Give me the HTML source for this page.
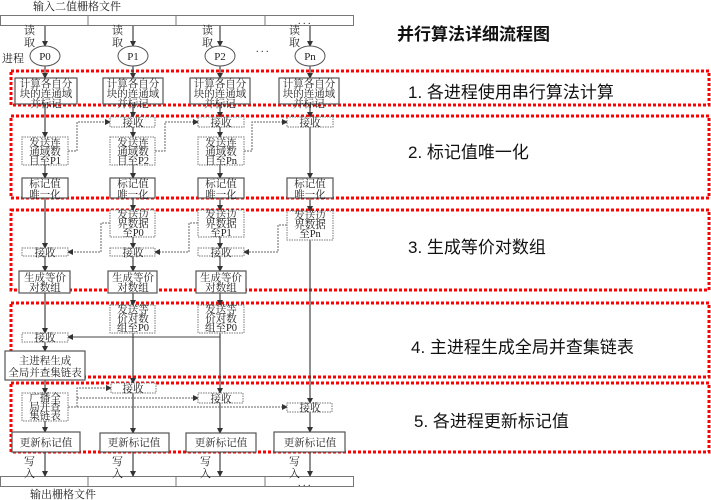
<!DOCTYPE html>
<html><head><meta charset="utf-8"><style>
html,body{margin:0;padding:0;background:#fff;}
svg{display:block;}
text{font-family:"Liberation Serif","Noto Serif CJK SC","Noto Sans CJK SC",serif;fill:#222;}
.t{font-size:10.5px;text-anchor:middle;}
.r{font-family:"Liberation Sans","Noto Sans CJK SC",sans-serif;font-size:17px;fill:#111;}
</style></head><body>
<svg width="711" height="500" viewBox="0 0 711 500" xmlns="http://www.w3.org/2000/svg">
<defs>
<marker id="a" markerWidth="6" markerHeight="6" refX="5" refY="3" orient="auto" markerUnits="userSpaceOnUse"><path d="M0,0 L6,3 L0,6 z" fill="#333"/></marker>
</defs>
<g fill="none" stroke="#f00" stroke-width="3" stroke-dasharray="3,2">
<rect x="11" y="71" width="698" height="34"/>
<rect x="11" y="116" width="698" height="82"/>
<rect x="11" y="210" width="698" height="80"/>
<rect x="11" y="303" width="698" height="74"/>
<rect x="11" y="383" width="698" height="69"/>
</g>
<text x="33" y="10" style="font-size:11px">输入二值栅格文件</text>
<g fill="#fff" stroke="#777" stroke-width="1">
<rect x="0.5" y="15.5" width="353" height="10"/>
<rect x="0.5" y="476.5" width="353" height="10"/>
</g>
<g stroke="#777"><line x1="88" y1="15" x2="88" y2="26"/><line x1="176" y1="15" x2="176" y2="26"/><line x1="265" y1="15" x2="265" y2="26"/>
<line x1="88" y1="476" x2="88" y2="487"/><line x1="176" y1="476" x2="176" y2="487"/><line x1="265" y1="476" x2="265" y2="487"/></g>
<text x="298" y="24" style="font-size:10px">. . .</text>
<text x="298" y="486" style="font-size:10px">. . .</text>
<text x="30" y="498" style="font-size:11px">输出栅格文件</text>
<text x="256" y="52" style="font-size:10px">. . .</text>
<text x="2" y="62" style="font-size:11px">进程</text>
<g style="font-size:11px">
<text x="24" y="34">读</text><text x="24" y="46">取</text>
<text x="112" y="34">读</text><text x="112" y="46">取</text>
<text x="202" y="34">读</text><text x="202" y="46">取</text>
<text x="289" y="34">读</text><text x="289" y="46">取</text>
<text x="24" y="465" fill="#666">写</text><text x="24" y="477">入</text>
<text x="112" y="465" fill="#666">写</text><text x="112" y="477">入</text>
<text x="200" y="465" fill="#666">写</text><text x="200" y="477">入</text>
<text x="289" y="465" fill="#666">写</text><text x="289" y="477">入</text>
</g>
<g stroke="#444" stroke-width="1.2" fill="none" marker-end="url(#a)">
<line x1="45" y1="26" x2="45" y2="46"/><line x1="133" y1="26" x2="133" y2="46"/><line x1="220" y1="26" x2="220" y2="46"/><line x1="310" y1="26" x2="310" y2="46"/>
<line x1="45" y1="66" x2="45" y2="78"/><line x1="133" y1="66" x2="133" y2="78"/><line x1="220" y1="66" x2="220" y2="78"/><line x1="310" y1="66" x2="310" y2="78"/>
<line x1="45" y1="104" x2="45" y2="137"/>
<line x1="133" y1="104" x2="133" y2="117"/><line x1="220" y1="104" x2="220" y2="117"/><line x1="310" y1="104" x2="310" y2="117"/>
<line x1="133" y1="127" x2="133" y2="137"/><line x1="220" y1="127" x2="220" y2="137"/><line x1="310" y1="127" x2="310" y2="178"/>
<line x1="45" y1="165" x2="45" y2="178"/><line x1="133" y1="165" x2="133" y2="178"/><line x1="220" y1="165" x2="220" y2="178"/>
<line x1="45" y1="198" x2="45" y2="248"/>
<line x1="133" y1="198" x2="133" y2="210"/><line x1="220" y1="198" x2="220" y2="210"/><line x1="310" y1="198" x2="310" y2="211"/>
<line x1="133" y1="237" x2="133" y2="248"/><line x1="220" y1="237" x2="220" y2="248"/>
<line x1="45" y1="256" x2="45" y2="271"/><line x1="133" y1="256" x2="133" y2="271"/><line x1="220" y1="256" x2="220" y2="271"/>
<line x1="45" y1="293" x2="45" y2="333"/>
<line x1="133" y1="293" x2="133" y2="305"/><line x1="220" y1="293" x2="220" y2="305"/>
<line x1="45" y1="342" x2="45" y2="351"/>
<line x1="45" y1="380" x2="45" y2="393"/>
<line x1="133" y1="333" x2="133" y2="383"/><line x1="220" y1="333" x2="220" y2="393"/><line x1="310" y1="240" x2="310" y2="403"/>
<line x1="133" y1="393" x2="133" y2="433"/><line x1="220" y1="403" x2="220" y2="433"/><line x1="310" y1="412" x2="310" y2="432"/>
<line x1="45" y1="421" x2="45" y2="432"/>
<line x1="45" y1="452" x2="45" y2="476"/><line x1="133" y1="452" x2="133" y2="476"/><line x1="220" y1="452" x2="220" y2="476"/><line x1="310" y1="452" x2="310" y2="476"/>
</g>
<g stroke="#666" stroke-width="1" fill="none" stroke-dasharray="2,1" marker-end="url(#a)">
<polyline points="68,151 77,151 77,122 110,122"/>
<polyline points="155,151 165,151 165,122 198,122"/>
<polyline points="244,151 252,151 252,122 287,122"/>
<polyline points="110,223 101,223 101,252 68,252"/>
<polyline points="198,223 189,223 189,252 155,252"/>
<polyline points="287,225 278,225 278,252 244,252"/>
<polyline points="68,407 77,407 77,388 111,388"/>
<polyline points="77,398 198,398"/>
<polyline points="68,407 287,407"/>
</g>
<g stroke="#444" stroke-width="1" fill="none" marker-end="url(#a)">
<polyline points="220,337 68,337"/>
</g>
<g fill="#fff" stroke="#555">
<ellipse cx="45" cy="56" rx="15" ry="10"/><ellipse cx="133" cy="56" rx="15" ry="10"/><ellipse cx="220" cy="56" rx="15" ry="10"/><ellipse cx="310" cy="56" rx="15" ry="10"/>
</g>
<g class="t" style="font-size:11px"><text x="45" y="60">P0</text><text x="133" y="60">P1</text><text x="220" y="60">P2</text><text x="310" y="60">Pn</text></g>
<g fill="#fff" stroke="#555" stroke-width="1.2">
<rect x="15" y="78" width="62" height="26"/><rect x="103" y="78" width="60" height="26"/><rect x="190" y="78" width="60" height="26"/><rect x="279" y="78" width="60" height="26"/>
<rect x="22" y="178" width="46" height="20"/><rect x="110" y="178" width="45" height="20"/><rect x="198" y="178" width="46" height="20"/><rect x="287" y="178" width="46" height="20"/>
<rect x="19" y="271" width="51" height="22"/><rect x="108" y="271" width="49" height="22"/><rect x="196" y="271" width="50" height="22"/>
<rect x="5" y="351" width="80" height="29"/>
<rect x="12" y="432" width="68" height="20"/><rect x="100" y="433" width="69" height="19"/><rect x="186" y="433" width="70" height="19"/><rect x="274" y="432" width="71" height="20"/>
</g>
<g fill="#fff" stroke="#777" stroke-width="1" stroke-dasharray="1.5,1">
<rect x="110" y="117" width="45" height="10"/><rect x="198" y="117" width="46" height="10"/><rect x="287" y="117" width="46" height="10"/>
<rect x="22" y="137" width="46" height="28"/><rect x="110" y="137" width="45" height="28"/><rect x="198" y="137" width="46" height="28"/>
<rect x="110" y="210" width="45" height="27"/><rect x="198" y="210" width="46" height="27"/><rect x="287" y="211" width="46" height="29"/>
<rect x="22" y="248" width="46" height="8"/><rect x="110" y="248" width="45" height="8"/><rect x="198" y="248" width="46" height="8"/>
<rect x="110" y="305" width="45" height="28"/><rect x="198" y="305" width="46" height="28"/>
<rect x="22" y="333" width="46" height="9"/>
<rect x="111" y="383" width="45" height="10"/><rect x="198" y="393" width="45" height="10"/><rect x="287" y="403" width="45" height="9"/>
<rect x="22" y="393" width="46" height="28"/>
</g>
<g class="t">
<text x="46" y="87">计算各自分</text><text x="46" y="97">块的连通域</text><text x="46" y="107">并标记</text>
<text x="133" y="87">计算各自分</text><text x="133" y="97">块的连通域</text><text x="133" y="107">并标记</text>
<text x="220" y="87">计算各自分</text><text x="220" y="97">块的连通域</text><text x="220" y="107">并标记</text>
<text x="309" y="87">计算各自分</text><text x="309" y="97">块的连通域</text><text x="309" y="107">并标记</text>
<text x="133" y="126">接收</text><text x="221" y="126">接收</text><text x="310" y="126">接收</text>
<text x="45" y="146">发送连</text><text x="45" y="155">通域数</text><text x="45" y="164">目至P1</text>
<text x="133" y="146">发送连</text><text x="133" y="155">通域数</text><text x="133" y="164">目至P2</text>
<text x="221" y="146">发送连</text><text x="221" y="155">通域数</text><text x="221" y="164">目至Pn</text>
<text x="45" y="187">标记值</text><text x="45" y="198">唯一化</text>
<text x="133" y="187">标记值</text><text x="133" y="198">唯一化</text>
<text x="221" y="187">标记值</text><text x="221" y="198">唯一化</text>
<text x="310" y="187">标记值</text><text x="310" y="198">唯一化</text>
<text x="133" y="218">发送边</text><text x="133" y="227">界数据</text><text x="133" y="236">至P0</text>
<text x="221" y="218">发送边</text><text x="221" y="227">界数据</text><text x="221" y="236">至P1</text>
<text x="310" y="219">发送边</text><text x="310" y="228">界数据</text><text x="310" y="237">至Pn</text>
<text x="45" y="256">接收</text><text x="133" y="256">接收</text><text x="221" y="256">接收</text>
<text x="45" y="281">生成等价</text><text x="45" y="291">对数组</text>
<text x="133" y="281">生成等价</text><text x="133" y="291">对数组</text>
<text x="221" y="281">生成等价</text><text x="221" y="291">对数组</text>
<text x="133" y="313">发送等</text><text x="133" y="322">价对数</text><text x="133" y="331">组至P0</text>
<text x="221" y="313">发送等</text><text x="221" y="322">价对数</text><text x="221" y="331">组至P0</text>
<text x="45" y="341">接收</text>
<text x="45" y="364">主进程生成</text><text x="45" y="376">全局并查集链表</text>
<text x="133" y="392">接收</text><text x="221" y="402">接收</text><text x="310" y="411">接收</text>
<text x="45" y="401">广播全</text><text x="45" y="410">局并查</text><text x="45" y="419">集链表</text>
<text x="46" y="446">更新标记值</text><text x="134" y="446">更新标记值</text><text x="221" y="446">更新标记值</text><text x="310" y="446">更新标记值</text>
</g>
<text x="397" y="40" class="r" style="font-weight:bold;font-size:17px">并行算法详细流程图</text>
<text x="408" y="98" class="r">1. 各进程使用串行算法计算</text>
<text x="408" y="158" class="r">2. 标记值唯一化</text>
<text x="408" y="253" class="r">3. 生成等价对数组</text>
<text x="411" y="353" class="r">4. 主进程生成全局并查集链表</text>
<text x="414" y="427" class="r">5. 各进程更新标记值</text>
</svg>
</body></html>
